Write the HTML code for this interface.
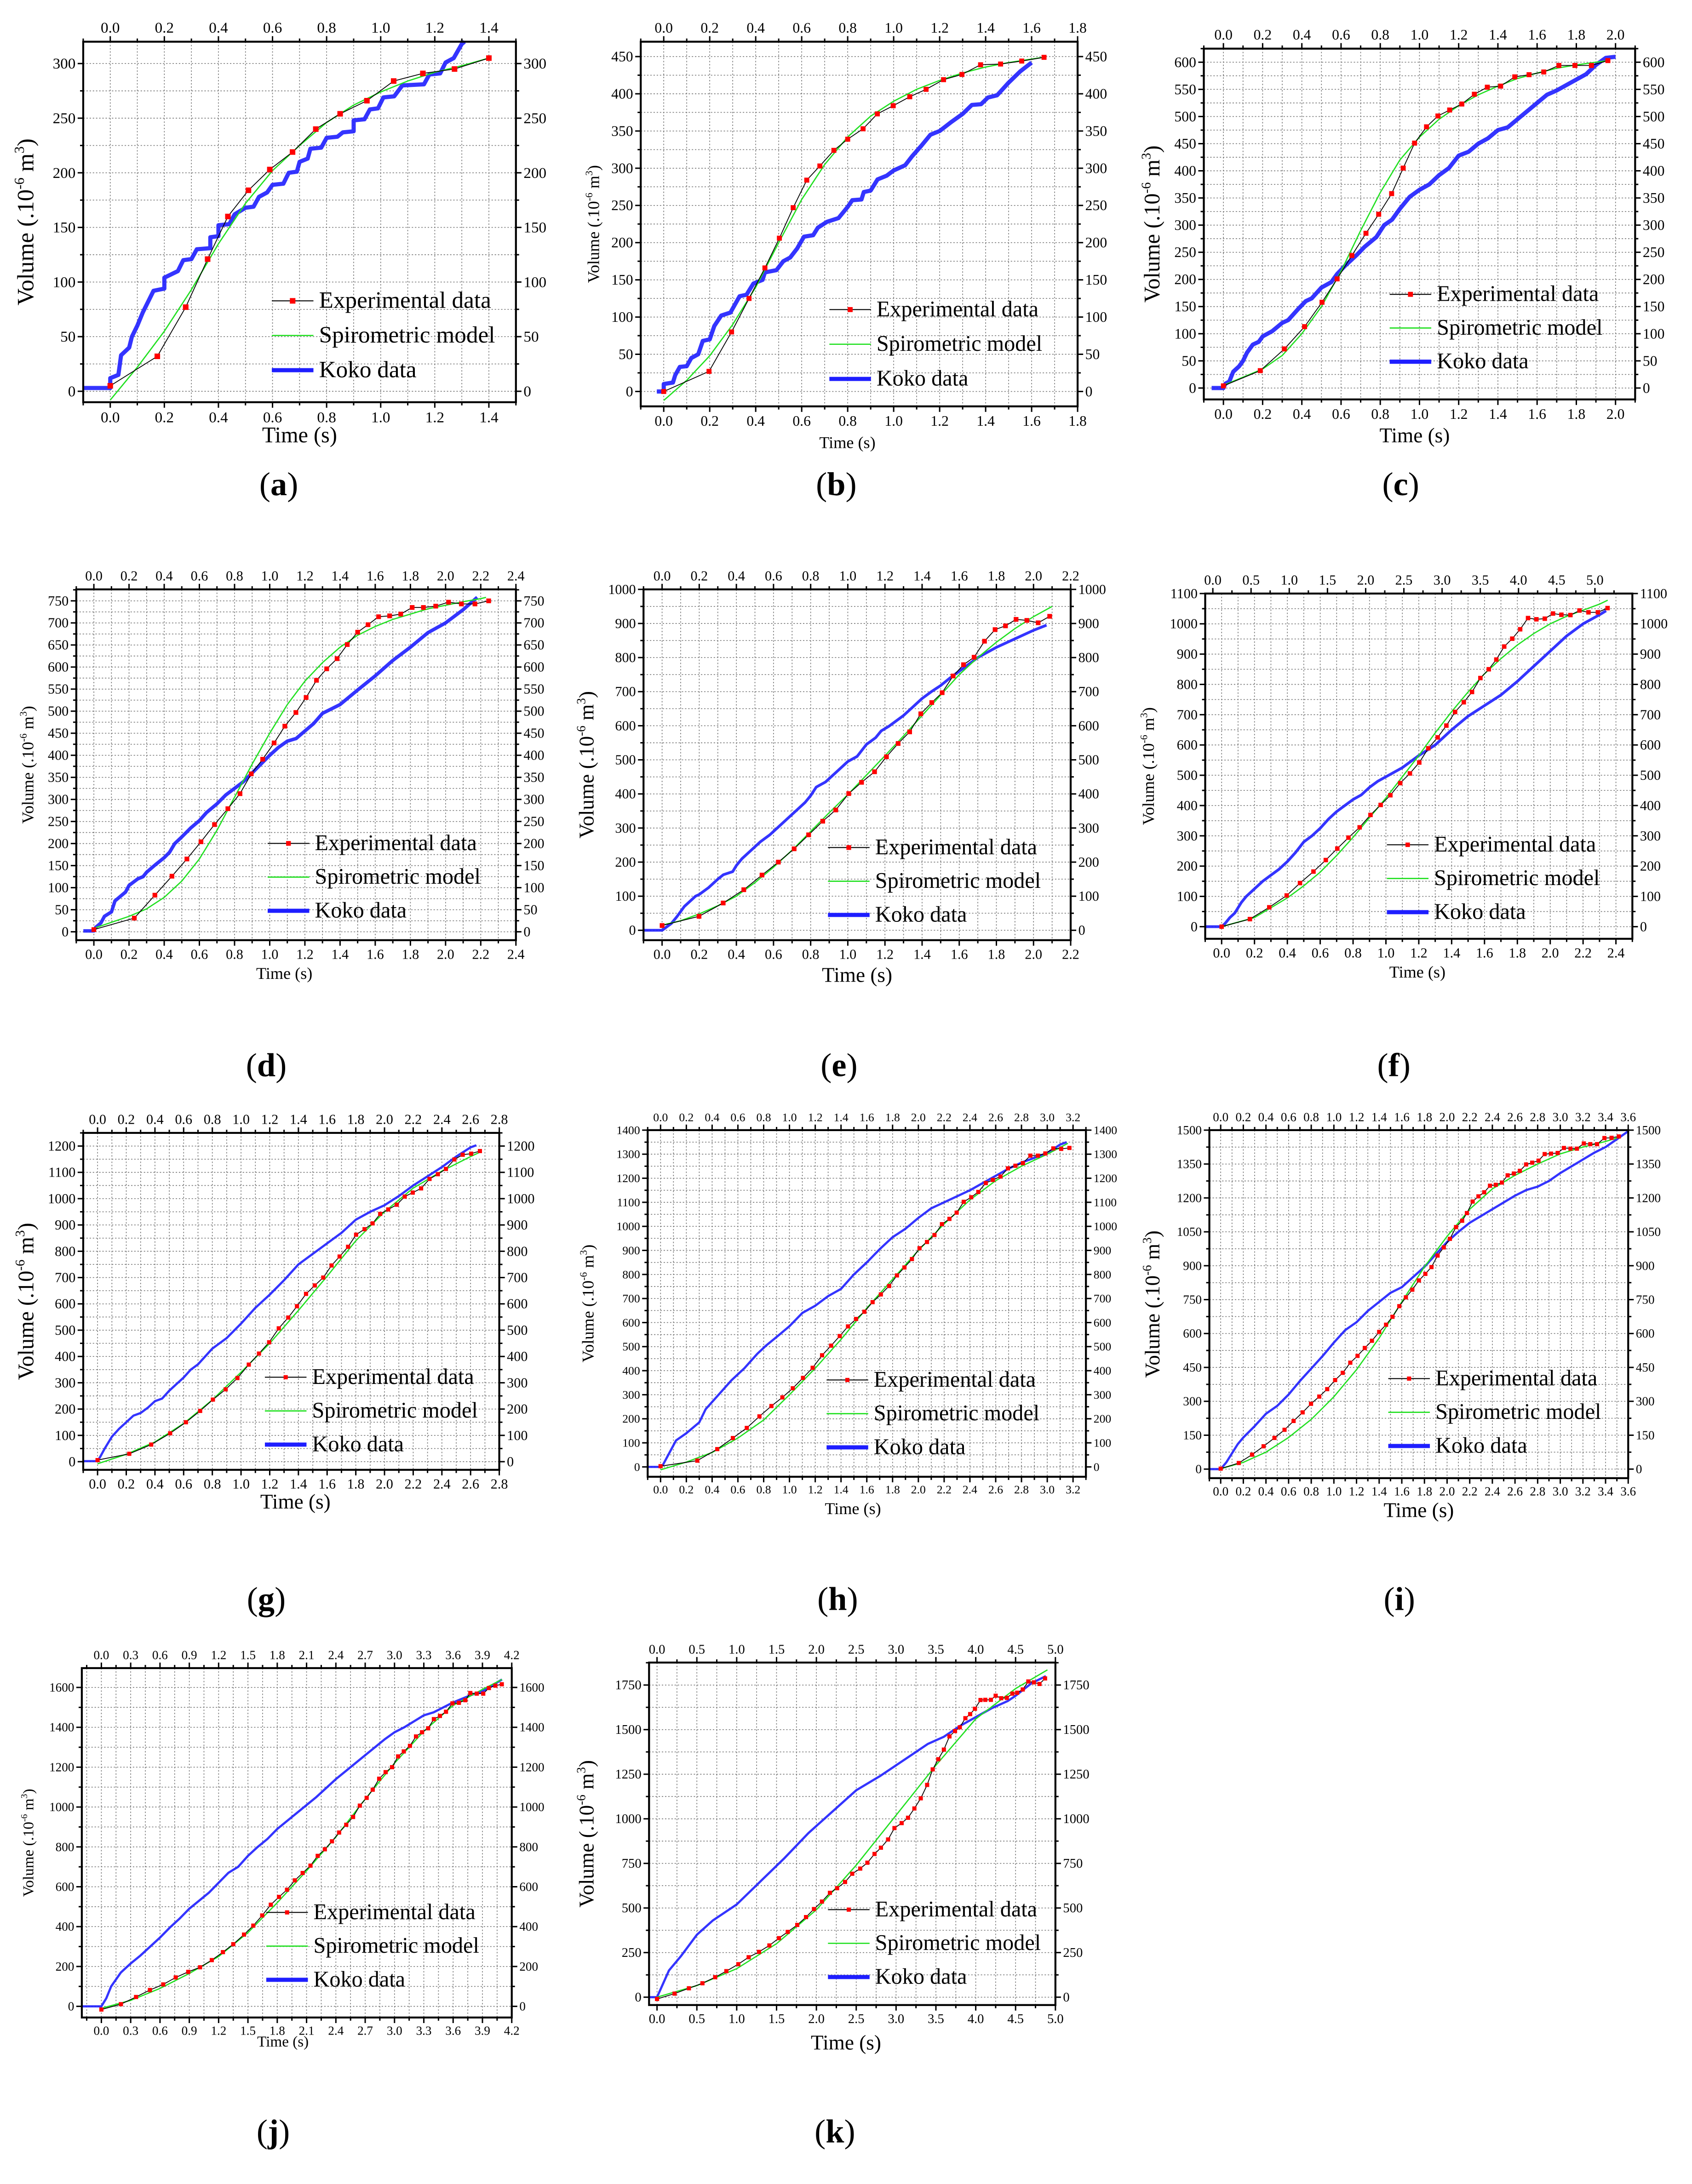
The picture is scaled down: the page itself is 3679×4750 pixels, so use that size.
<!DOCTYPE html>
<html><head><meta charset="utf-8"><style>
html,body{margin:0;padding:0;background:#fff;}
svg{display:block;}
svg text{font-family:"Liberation Serif","DejaVu Serif",serif;fill:#000;}
</style></head><body>
<svg id="fig" xmlns="http://www.w3.org/2000/svg" width="3679" height="4750" viewBox="0 0 1220 1575" font-family="Liberation Serif, DejaVu Serif, serif"></svg>
<script>
// ---- data (time in s, volume in 1e-6 m3) ----
const expT_a=[0,0.174,0.279,0.36,0.435,0.511,0.59,0.674,0.76,0.85,0.949,1.048,1.156,1.273,1.4];
const expV_a=[5,32,77,121,160,184,203,219,240,254,266,284,291,295,305];
const spT_a=[0,0.1,0.2,0.3,0.4,0.5,0.6,0.7,0.8,0.9,1.0,1.1,1.2,1.3,1.4];
const spV_a=[-8,22,55,93,135,172,202,225,246,262,274,284,292,298,305];
const kokoT_a=[-0.1,0,0,0.03,0.04,0.07,0.08,0.1,0.12,0.14,0.16,0.2,0.2,0.25,0.27,0.3,0.32,0.37,0.37,0.4,0.4,0.44,0.46,0.5,0.53,0.55,0.58,0.6,0.64,0.66,0.69,0.7,0.73,0.74,0.78,0.8,0.84,0.86,0.9,0.9,0.94,0.96,0.99,1.01,1.05,1.08,1.16,1.18,1.22,1.24,1.27,1.3,1.31];
const kokoV_a=[3,3,12,15,33,40,50,60,72,82,92,94,104,110,120,121,130,131,141,142,152,153,162,168,169,178,182,189,190,200,201,210,213,222,223,232,233,237,238,248,249,258,259,269,270,280,281,290,291,301,305,318,320];

const expT_b=[0,0.197,0.295,0.371,0.44,0.503,0.563,0.622,0.679,0.74,0.8,0.867,0.929,0.998,1.07,1.141,1.217,1.297,1.378,1.465,1.557,1.654];
const expV_b=[0,27,80,125,166,206,247,284,303,324,339,353,373,384,396,406,419,426,439,440,444,449];
const spT_b=[0,0.1,0.2,0.3,0.4,0.5,0.6,0.7,0.8,0.9,1.0,1.1,1.2,1.3,1.4,1.5,1.65];
const spV_b=[-12,15,48,90,140,200,258,305,342,370,390,406,418,428,436,442,449];
const kokoT_b=[-0.03,0,0,0.04,0.05,0.07,0.1,0.12,0.15,0.17,0.2,0.22,0.25,0.29,0.31,0.33,0.36,0.39,0.43,0.44,0.49,0.52,0.55,0.58,0.61,0.65,0.67,0.71,0.76,0.8,0.82,0.86,0.87,0.9,0.93,0.97,1.0,1.05,1.08,1.12,1.16,1.2,1.25,1.3,1.34,1.38,1.41,1.45,1.5,1.55,1.6];
const kokoV_b=[0,0,10,12,22,33,34,45,50,68,70,88,102,106,117,128,130,145,150,160,163,175,180,192,208,210,220,228,233,248,257,258,268,270,285,290,297,304,316,330,345,350,362,373,385,386,395,398,415,430,442];

const expT_c=[0,0.188,0.311,0.414,0.503,0.58,0.655,0.727,0.792,0.858,0.917,0.975,1.036,1.094,1.154,1.216,1.28,1.346,1.414,1.486,1.559,1.634,1.711,1.793,1.877,1.961];
const expV_c=[4,32,72,113,158,201,244,285,320,358,405,451,481,501,512,523,541,554,556,573,577,582,594,594,594,603];
const spT_c=[0,0.2,0.3,0.4,0.5,0.6,0.7,0.8,0.9,1.0,1.1,1.2,1.3,1.4,1.5,1.6,1.7,1.8,1.9,1.96];
const spV_c=[5,35,60,100,150,215,290,360,420,462,495,520,540,556,570,580,589,595,600,603];
const kokoT_c=[-0.06,0,0.01,0.03,0.05,0.08,0.1,0.12,0.15,0.18,0.2,0.25,0.3,0.33,0.38,0.42,0.45,0.5,0.55,0.58,0.62,0.68,0.72,0.78,0.82,0.86,0.9,0.95,1.0,1.05,1.1,1.15,1.2,1.25,1.3,1.35,1.4,1.45,1.5,1.55,1.6,1.65,1.7,1.8,1.85,1.9,1.95,2.0];
const kokoV_c=[0,0,8,12,30,40,50,65,80,85,95,105,120,125,145,160,165,185,195,210,225,245,260,278,300,310,330,352,365,375,392,405,428,435,450,460,475,480,495,510,525,540,548,568,578,595,608,610];

const expT_d=[0,0.23,0.347,0.444,0.529,0.609,0.686,0.762,0.831,0.895,0.96,1.025,1.086,1.149,1.207,1.266,1.324,1.383,1.441,1.5,1.559,1.619,1.682,1.745,1.81,1.874,1.944,2.017,2.09,2.167,2.245];
const expV_d=[5,31,83,126,165,204,243,279,313,358,391,428,466,497,531,570,596,619,651,679,696,714,716,720,735,735,738,747,743,743,750];
const spT_d=[0,0.2,0.3,0.4,0.5,0.6,0.7,0.8,0.9,1.0,1.1,1.2,1.3,1.4,1.5,1.6,1.7,1.8,1.9,2.0,2.1,2.2,2.23];
const spV_d=[8,35,52,78,115,165,230,305,380,450,515,568,610,645,672,692,708,720,732,740,748,755,758];
const kokoT_d=[-0.06,0,0.01,0.04,0.06,0.1,0.12,0.15,0.18,0.2,0.25,0.28,0.3,0.35,0.4,0.43,0.46,0.5,0.55,0.6,0.64,0.7,0.75,0.8,0.85,0.9,0.95,1.0,1.05,1.1,1.15,1.2,1.25,1.3,1.4,1.5,1.6,1.7,1.8,1.9,2.0,2.1,2.18];
const kokoV_d=[2,2,10,20,35,45,70,80,90,105,120,125,135,152,168,180,200,215,235,252,270,290,310,325,340,360,380,400,418,432,438,455,472,495,515,548,580,615,645,678,700,730,758];

const expT_e=[0,0.199,0.329,0.44,0.538,0.626,0.711,0.789,0.865,0.935,1.005,1.074,1.144,1.208,1.271,1.333,1.393,1.452,1.508,1.567,1.623,1.68,1.736,1.793,1.849,1.906,1.964,2.025,2.087];
const expV_e=[14,41,80,119,162,200,239,280,320,353,401,434,465,509,548,582,635,668,697,746,779,801,848,882,893,912,909,902,921];
const spT_e=[0,0.1,0.2,0.3,0.4,0.5,0.6,0.7,0.8,0.9,1.0,1.1,1.2,1.3,1.4,1.5,1.6,1.7,1.8,1.9,2.0,2.1];
const spV_e=[15,28,48,72,100,140,185,235,290,345,398,455,512,570,630,690,750,800,845,885,920,950];
const kokoT_e=[-0.1,0,0.02,0.05,0.08,0.12,0.14,0.18,0.2,0.25,0.3,0.33,0.38,0.4,0.43,0.48,0.53,0.58,0.62,0.67,0.72,0.77,0.8,0.83,0.88,0.95,1.0,1.05,1.1,1.15,1.18,1.22,1.3,1.35,1.4,1.45,1.5,1.55,1.6,1.65,1.7,1.8,1.9,2.0,2.07];
const kokoV_e=[0,0,8,20,40,70,80,100,105,125,150,163,172,190,210,235,260,280,300,325,350,375,395,420,435,470,495,510,545,565,585,598,630,655,680,700,718,740,760,780,800,830,855,880,895];

const expT_f=[0,0.172,0.29,0.396,0.477,0.559,0.634,0.704,0.772,0.84,0.906,0.968,1.027,1.087,1.146,1.203,1.258,1.315,1.368,1.421,1.474,1.524,1.575,1.626,1.672,1.72,1.769,1.817,1.865,1.916,1.967,2.017,2.068,2.123,2.178,2.233,2.29,2.349];
const expV_f=[0,25,64,103,144,182,220,258,294,328,369,402,434,474,506,542,589,625,664,709,741,775,821,850,882,925,951,982,1019,1015,1017,1034,1030,1029,1044,1038,1038,1052];
const spT_f=[0,0.2,0.4,0.5,0.6,0.7,0.8,0.9,1.0,1.1,1.2,1.3,1.4,1.5,1.6,1.7,1.8,1.9,2.0,2.1,2.2,2.3,2.35];
const spV_f=[0,30,95,135,180,235,295,360,425,495,565,640,710,775,835,885,930,968,1000,1025,1045,1065,1078];
const kokoT_f=[-0.1,0,0.02,0.05,0.08,0.12,0.15,0.2,0.25,0.3,0.35,0.4,0.45,0.5,0.55,0.6,0.65,0.7,0.75,0.8,0.85,0.9,0.95,1.0,1.05,1.1,1.15,1.2,1.3,1.4,1.5,1.6,1.7,1.8,1.9,2.0,2.1,2.2,2.3,2.34];
const kokoV_f=[0,0,10,30,45,80,100,125,150,170,190,215,245,280,300,325,355,380,400,420,435,460,480,495,510,525,545,565,600,650,695,730,765,810,860,910,960,1000,1030,1043];

const expT_g=[0,0.221,0.374,0.506,0.616,0.715,0.804,0.893,0.975,1.054,1.125,1.196,1.263,1.329,1.39,1.453,1.514,1.573,1.631,1.687,1.746,1.802,1.861,1.917,1.97,2.026,2.085,2.141,2.197,2.255,2.314,2.372,2.428,2.487,2.545,2.604,2.665];
const expV_g=[6,30,65,108,150,193,236,275,318,369,411,454,507,548,591,638,670,700,746,780,817,863,884,906,942,959,977,1008,1023,1039,1075,1093,1113,1149,1167,1171,1181];
const spT_g=[0,0.2,0.4,0.6,0.8,1.0,1.2,1.4,1.6,1.8,2.0,2.2,2.4,2.6,2.67];
const spV_g=[-8,28,75,145,235,340,450,575,705,840,950,1040,1105,1160,1178];
const kokoT_g=[-0.1,0,0.02,0.05,0.1,0.15,0.2,0.25,0.3,0.35,0.4,0.45,0.5,0.55,0.6,0.65,0.7,0.8,0.9,1.0,1.1,1.2,1.3,1.4,1.5,1.6,1.7,1.8,1.9,2.0,2.1,2.2,2.3,2.4,2.5,2.6,2.64];
const kokoV_g=[2,2,20,50,95,125,150,175,185,205,230,240,270,295,320,350,370,430,470,525,585,635,690,750,790,830,870,920,950,975,1010,1050,1085,1120,1160,1195,1203];

const expT_h=[0,0.285,0.44,0.561,0.669,0.767,0.86,0.945,1.026,1.105,1.18,1.253,1.323,1.39,1.454,1.517,1.581,1.645,1.709,1.773,1.834,1.892,1.95,2.009,2.067,2.125,2.183,2.241,2.297,2.352,2.41,2.465,2.523,2.578,2.637,2.695,2.753,2.811,2.869,2.927,2.985,3.047,3.108,3.172];
const expV_h=[3,26,74,120,162,210,253,289,327,370,412,464,504,544,584,615,645,685,717,752,796,829,864,909,935,964,1009,1031,1057,1102,1121,1143,1180,1193,1207,1241,1252,1263,1294,1294,1303,1324,1322,1326];
const spT_h=[0,0.2,0.4,0.6,0.8,1.0,1.2,1.4,1.6,1.8,2.0,2.2,2.4,2.6,2.8,3.0,3.16];
const spV_h=[-12,20,60,120,195,300,410,530,660,780,900,1010,1110,1190,1250,1300,1345];
const kokoT_h=[-0.1,0,0.02,0.05,0.08,0.12,0.2,0.3,0.35,0.45,0.55,0.65,0.75,0.82,0.9,1.0,1.1,1.2,1.3,1.4,1.5,1.6,1.7,1.8,1.9,2.0,2.1,2.2,2.3,2.4,2.5,2.6,2.7,2.8,2.9,3.0,3.1,3.15];
const kokoV_h=[0,0,10,40,70,110,140,185,240,300,360,410,470,505,540,585,640,670,710,740,800,850,905,955,990,1035,1075,1100,1125,1150,1180,1210,1240,1265,1285,1305,1340,1350];

const expT_i=[0,0.16,0.277,0.379,0.475,0.564,0.644,0.724,0.798,0.871,0.941,1.011,1.078,1.145,1.209,1.273,1.336,1.4,1.461,1.518,1.578,1.636,1.693,1.751,1.808,1.862,1.916,1.971,2.025,2.079,2.133,2.175,2.226,2.277,2.328,2.379,2.43,2.484,2.535,2.59,2.643,2.698,2.752,2.808,2.862,2.918,2.977,3.032,3.09,3.147,3.208,3.265,3.325,3.39,3.453,3.517];
const expV_i=[2,27,64,101,138,174,213,251,289,321,354,394,426,471,501,536,568,607,639,674,721,760,794,835,864,894,945,981,1019,1071,1099,1133,1184,1207,1225,1254,1258,1268,1300,1308,1320,1348,1356,1365,1394,1396,1399,1421,1418,1418,1441,1438,1438,1465,1466,1472];
const spT_i=[0,0.2,0.4,0.6,0.8,1.0,1.2,1.4,1.6,1.8,2.0,2.2,2.4,2.6,2.8,3.0,3.2,3.4,3.5];
const spV_i=[2,30,75,140,220,320,440,580,740,895,1030,1150,1240,1300,1350,1395,1425,1450,1465];
const kokoT_i=[-0.2,0,0.05,0.1,0.15,0.2,0.3,0.4,0.5,0.6,0.7,0.8,0.9,1.0,1.1,1.2,1.3,1.4,1.5,1.6,1.7,1.8,1.9,2.0,2.1,2.2,2.3,2.4,2.5,2.6,2.7,2.8,2.9,3.0,3.1,3.2,3.3,3.4,3.5,3.6];
const kokoV_i=[0,0,30,70,110,140,190,245,280,330,390,445,500,560,615,650,700,740,780,805,850,895,950,1005,1050,1090,1120,1150,1180,1210,1235,1250,1275,1310,1340,1370,1400,1425,1460,1495];

const expT_j=[0,0.2,0.355,0.497,0.633,0.761,0.889,1.01,1.13,1.244,1.35,1.46,1.555,1.646,1.734,1.818,1.9,1.98,2.06,2.14,2.214,2.287,2.36,2.433,2.506,2.576,2.645,2.715,2.777,2.843,2.909,2.975,3.037,3.095,3.158,3.22,3.282,3.344,3.403,3.465,3.527,3.593,3.659,3.725,3.776,3.842,3.908,3.966,4.032,4.098];
const expV_j=[-16,11,47,82,110,145,173,196,232,272,312,360,405,456,510,549,585,632,669,706,755,788,828,872,911,950,1007,1046,1087,1142,1175,1200,1254,1279,1307,1354,1375,1395,1441,1457,1478,1520,1523,1536,1572,1569,1569,1597,1609,1616];
const spT_j=[0,0.3,0.6,0.9,1.2,1.5,1.8,2.1,2.4,2.7,3.0,3.3,3.6,3.9,4.1];
const spV_j=[-10,30,90,165,250,370,520,680,850,1040,1220,1380,1510,1590,1640];
const kokoT_j=[-0.2,0,0.05,0.1,0.2,0.3,0.4,0.5,0.6,0.7,0.8,0.9,1.0,1.1,1.2,1.3,1.4,1.5,1.6,1.7,1.8,1.9,2.0,2.1,2.2,2.3,2.4,2.5,2.6,2.7,2.8,2.9,3.0,3.1,3.2,3.3,3.4,3.5,3.6,3.7,3.8,3.9,4.0,4.1];
const kokoV_j=[0,0,40,100,170,215,255,300,345,395,440,490,530,570,620,670,700,755,800,840,890,930,970,1010,1050,1095,1140,1180,1220,1260,1300,1340,1375,1400,1430,1460,1475,1500,1525,1545,1565,1580,1610,1640];

const expT_k=[0,0.22,0.4,0.57,0.73,0.87,1.02,1.15,1.28,1.41,1.53,1.64,1.76,1.87,1.97,2.07,2.17,2.26,2.36,2.45,2.55,2.64,2.73,2.81,2.9,2.98,3.07,3.15,3.23,3.31,3.39,3.46,3.53,3.6,3.67,3.74,3.8,3.87,3.93,3.99,4.06,4.12,4.19,4.25,4.32,4.39,4.46,4.52,4.59,4.66,4.73,4.8,4.87];
const expV_k=[-10,20,50,78,112,146,185,224,254,290,331,366,405,449,494,536,585,611,646,692,721,754,803,838,884,948,976,1006,1058,1115,1190,1277,1334,1388,1462,1492,1513,1564,1587,1617,1666,1667,1667,1690,1676,1678,1702,1707,1725,1770,1765,1756,1787];
const spT_k=[0,0.5,1.0,1.5,2.0,2.5,3.0,3.5,4.0,4.5,4.9];
const spV_k=[0,65,160,300,490,740,1020,1300,1560,1730,1835];
const kokoT_k=[-0.2,0,0.05,0.15,0.3,0.5,0.7,1.0,1.3,1.6,1.9,2.2,2.5,2.8,3.0,3.2,3.4,3.6,3.8,4.0,4.2,4.4,4.5,4.7,4.88];
const kokoV_k=[0,0,50,150,230,350,430,520,650,780,920,1040,1160,1240,1300,1360,1420,1460,1520,1570,1620,1660,1690,1760,1800];

const legendLabels=["Experimental data","Spirometric model","Koko data"];

// ---- layout ----
const P=[
 {id:"a",x0:60,x1:372,y0:30,y1:290,xd:[-0.1,1.5],yd:[-10,320],xs:0.2,xm:0.1,ys:50,ym:25,tf:11,lx:196,ly:222,lf:17,vf:17,vx:24,tf2:16,tx:216,ty:319,kw:3,ms:4,lab:[201,357],d:[expT_a,expV_a,spT_a,spV_a,kokoT_a,kokoV_a]},
 {id:"b",x0:462,x1:777,y0:30,y1:293,xd:[-0.1,1.8],yd:[-20,470],xs:0.2,xm:0.1,ys:50,ym:25,tf:10.5,lx:598,ly:228,lf:16,vf:12,vx:432,tf2:12,tx:611,ty:323,kw:3,ms:3.6,lab:[603,357],d:[expT_b,expV_b,spT_b,spV_b,kokoT_b,kokoV_b]},
 {id:"c",x0:868,x1:1179,y0:35,y1:288,xd:[-0.1,2.1],yd:[-21,625],xs:0.2,xm:0.1,ys:50,ym:25,tf:10.5,lx:1002,ly:217,lf:16,vf:16,vx:836,tf2:15,tx:1020,ty:319,kw:3,ms:3.6,lab:[1010,357],d:[expT_c,expV_c,spT_c,spV_c,kokoT_c,kokoV_c]},
 {id:"d",x0:55,x1:372,y0:425,y1:678,xd:[-0.1,2.4],yd:[-19,776],xs:0.2,xm:0.1,ys:50,ym:25,tf:10,lx:193,ly:613,lf:16,vf:12,vx:24,tf2:12,tx:205,ty:706,kw:2.5,ms:3.4,lab:[192,776],d:[expT_d,expV_d,spT_d,spV_d,kokoT_d,kokoV_d]},
 {id:"e",x0:464,x1:772,y0:425,y1:678,xd:[-0.1,2.2],yd:[-29,1000],xs:0.2,xm:0.1,ys:100,ym:50,tf:10,lx:597,ly:616,lf:16,vf:15,vx:428,tf2:15,tx:618,ty:708,kw:2,ms:3.4,lab:[605,776],d:[expT_e,expV_e,spT_e,spV_e,kokoT_e,kokoV_e]},
 {id:"f",x0:869,x1:1177,y0:428,y1:677,xd:[-0.1,2.5],yd:[-40,1100],xs:0.2,xm:0.1,ys:100,ym:50,tf:10,lx:1000,ly:614,lf:16,vf:12,vx:832,tf2:12,tx:1022,ty:705,kw:2,ms:3.2,lab:[1005,776],top:{d:[-0.1,5.49],s:0.5,m:0.25},d:[expT_f,expV_f,spT_f,spV_f,kokoT_f,kokoV_f]},
 {id:"g",x0:60,x1:360,y0:817,y1:1060,xd:[-0.1,2.8],yd:[-31,1250],xs:0.2,xm:0.1,ys:100,ym:50,tf:10,lx:191,ly:998,lf:16,vf:16,vx:24,tf2:15,tx:213,ty:1088,kw:1.6,ms:3,lab:[192,1161],d:[expT_g,expV_g,spT_g,spV_g,kokoT_g,kokoV_g]},
 {id:"h",x0:467,x1:783,y0:815,y1:1065,xd:[-0.1,3.3],yd:[-41,1400],xs:0.2,xm:0.1,ys:100,ym:50,tf:8.5,lx:596,ly:1000,lf:16,vf:12,vx:428,tf2:12,tx:615,ty:1092,kw:1.6,ms:3,lab:[604,1161],d:[expT_h,expV_h,spT_h,spV_h,kokoT_h,kokoV_h]},
 {id:"i",x0:872,x1:1174,y0:815,y1:1066,xd:[-0.1,3.6],yd:[-40,1500],xs:0.2,xm:0.1,ys:150,ym:75,tf:9,lx:1001,ly:999,lf:16,vf:15,vx:836,tf2:15,tx:1023,ty:1094,kw:1.6,ms:3,lab:[1009,1161],d:[expT_i,expV_i,spT_i,spV_i,kokoT_i,kokoV_i]},
 {id:"j",x0:59,x1:369,y0:1203,y1:1455,xd:[-0.2,4.2],yd:[-56,1697],xs:0.3,xm:0.15,ys:200,ym:100,tf:9,lx:192,ly:1384,lf:16,vf:11,vx:24,tf2:11,tx:204,ty:1476,kw:1.6,ms:3,lab:[197,1545],d:[expT_j,expV_j,spT_j,spV_j,kokoT_j,kokoV_j]},
 {id:"k",x0:468,x1:761,y0:1199,y1:1446,xd:[-0.1,5.0],yd:[-44,1876],xs:0.5,xm:0.25,ys:250,ym:125,tf:9.5,lx:597,ly:1382,lf:16,vf:15,vx:428,tf2:15,tx:610,ty:1478,kw:1.6,ms:3,lab:[602,1545],d:[expT_k,expV_k,spT_k,spV_k,kokoT_k,kokoV_k]}
];

const NS="http://www.w3.org/2000/svg";
const svg=document.getElementById("fig");
function mk(tag,attrs,parent){const e=document.createElementNS(NS,tag);for(const k in attrs)e.setAttribute(k,attrs[k]);parent.appendChild(e);return e;}
function ticks(lo,hi,step){const r=[];const s=Math.ceil(lo/step-1e-6),e=Math.floor(hi/step+1e-6);for(let k=s;k<=e;k++)r.push(+(k*step).toFixed(6));return r;}

P.forEach(function(p){
  const g=mk("g",{},svg);
  
  
  const X=v=>p.x0+(v-p.xd[0])/(p.xd[1]-p.xd[0])*(p.x1-p.x0);
  const Y=v=>p.y1-(v-p.yd[0])/(p.yd[1]-p.yd[0])*(p.y1-p.y0);
  const top=p.top||{d:p.xd,s:p.xs,m:p.xm};
  const XT=v=>p.x0+(v-top.d[0])/(top.d[1]-top.d[0])*(p.x1-p.x0);
  const grid=mk("g",{stroke:"#7a7a7a","stroke-width":0.55,"stroke-dasharray":"1,1.3"},g);
  
  
  ticks(p.xd[0],p.xd[1],p.xm).forEach(v=>{const x=X(v);if(x>p.x0+0.5&&x<p.x1-0.5)mk("line",{x1:x,x2:x,y1:p.y0,y2:p.y1},grid);});
  ticks(p.yd[0],p.yd[1],p.ym).forEach(v=>{const y=Y(v);if(y>p.y0+0.5&&y<p.y1-0.5)mk("line",{x1:p.x0,x2:p.x1,y1:y,y2:y},grid);});
  const cp=mk("clipPath",{id:"cp"+p.id},g);
  mk("rect",{x:p.x0,y:p.y0-6,width:p.x1-p.x0+4,height:p.y1-p.y0+6},cp);
  const dg=mk("g",{"clip-path":"url(#cp"+p.id+")"},g);
  
  
  const pts=(T,V)=>T.map((t,i)=>X(t).toFixed(2)+","+Y(V[i]).toFixed(2)).join(" ");
  const ko=mk("polyline",{points:pts(p.d[4],p.d[5]),fill:"none",stroke:"#1e1eff","stroke-width":p.kw,"stroke-linejoin":"round","stroke-opacity":0.9},dg);
  
  
  const sp=mk("polyline",{points:pts(p.d[2],p.d[3]),fill:"none",stroke:"#22e022","stroke-width":0.9},dg);
  
  
  const ex=mk("polyline",{points:pts(p.d[0],p.d[1]),fill:"none",stroke:"#000","stroke-width":0.6},dg);
  
  
  p.d[0].forEach((t,i)=>{
    const r=mk("rect",{x:X(t)-p.ms/2,y:Y(p.d[1][i])-p.ms/2,width:p.ms,height:p.ms,fill:"#f00"},dg);
    
    
  });
  const box=mk("rect",{x:p.x0,y:p.y0,width:p.x1-p.x0,height:p.y1-p.y0,fill:"none",stroke:"#000","stroke-width":1.4},g);
  
  
  const tk=mk("g",{stroke:"#000","stroke-width":1},g);
  
  
  const maj=4,mnr=2.3;
  const isMaj=(v,s)=>Math.abs(v/s-Math.round(v/s))<1e-6;
  ticks(p.xd[0],p.xd[1],p.xm).forEach(v=>{const x=X(v),L=isMaj(v,p.xs)?maj:mnr;mk("line",{x1:x,x2:x,y1:p.y1,y2:p.y1+L},tk);});
  ticks(top.d[0],top.d[1],top.m).forEach(v=>{const x=XT(v),L=isMaj(v,top.s)?maj:mnr;mk("line",{x1:x,x2:x,y1:p.y0,y2:p.y0-L},tk);});
  ticks(p.yd[0],p.yd[1],p.ym).forEach(v=>{const y=Y(v),L=isMaj(v,p.ys)?maj:mnr;mk("line",{x1:p.x0,x2:p.x0-L,y1:y,y2:y},tk);mk("line",{x1:p.x1,x2:p.x1+L,y1:y,y2:y},tk);});
  const tl=mk("g",{"font-size":p.tf},g);
  
  
  ticks(Math.max(0,p.xd[0]),p.xd[1],p.xs).forEach(v=>{
    const t=mk("text",{x:X(v),y:p.y1+maj+p.tf*0.95,"text-anchor":"middle"},tl);t.textContent=v.toFixed(1);
  });
  ticks(Math.max(0,top.d[0]),top.d[1],top.s).forEach(v=>{
    const t=mk("text",{x:XT(v),y:p.y0-maj-2.5,"text-anchor":"middle"},tl);t.textContent=v.toFixed(1);
  });
  ticks(Math.max(0,p.yd[0]),p.yd[1],p.ys).forEach(v=>{
    const y=Y(v)+p.tf*0.33;
    const a=mk("text",{x:p.x0-maj-1.5,y:y,"text-anchor":"end"},tl);a.textContent=String(v);
    const b=mk("text",{x:p.x1+maj+1.5,y:y,"text-anchor":"start"},tl);b.textContent=String(v);
  });
  const cy=(p.y0+p.y1)/2;
  const vt=mk("text",{x:p.vx,y:cy,"font-size":p.vf,"text-anchor":"middle",transform:"rotate(-90 "+p.vx+" "+cy+")"},g);
  
  
  vt.innerHTML='Volume (.10<tspan font-size="'+(p.vf*0.6)+'" dy="'+(-p.vf*0.4)+'">-6</tspan><tspan dy="'+(p.vf*0.4)+'"> m</tspan><tspan font-size="'+(p.vf*0.6)+'" dy="'+(-p.vf*0.4)+'">3</tspan><tspan dy="'+(p.vf*0.4)+'">)</tspan>';
  const xt=mk("text",{x:p.tx,y:p.ty,"font-size":p.tf2,"text-anchor":"middle"},g);
  
  
  xt.textContent="Time (s)";
  const lg=mk("g",{},g);
  
  
  const gap=p.id==="a"||p.id==="b"?25:24.3;
  for(let i=0;i<3;i++){
    const y=p.ly+i*gap-p.lf*0.3;
    const en=mk("g",{},lg);
    
    
    const col=i===0?"#000":(i===1?"#22e022":"#1e1eff");
    const w=i===0?0.7:(i===1?0.9:3);
    mk("line",{x1:p.lx,x2:p.lx+30,y1:y,y2:y,stroke:col,"stroke-width":w},en);
    if(i===0)mk("rect",{x:p.lx+15-p.ms/2,y:y-p.ms/2,width:p.ms,height:p.ms,fill:"#f00"},en);
    const t=mk("text",{x:p.lx+34,y:p.ly+i*gap,"font-size":p.lf},en);
    t.textContent=legendLabels[i];
  }
  const L=mk("text",{x:p.lab[0],y:p.lab[1],"font-size":24,"text-anchor":"middle"},svg);
  
  
  L.innerHTML='(<tspan font-weight="bold">'+p.id+'</tspan>)';
});
</script>
</body></html>
